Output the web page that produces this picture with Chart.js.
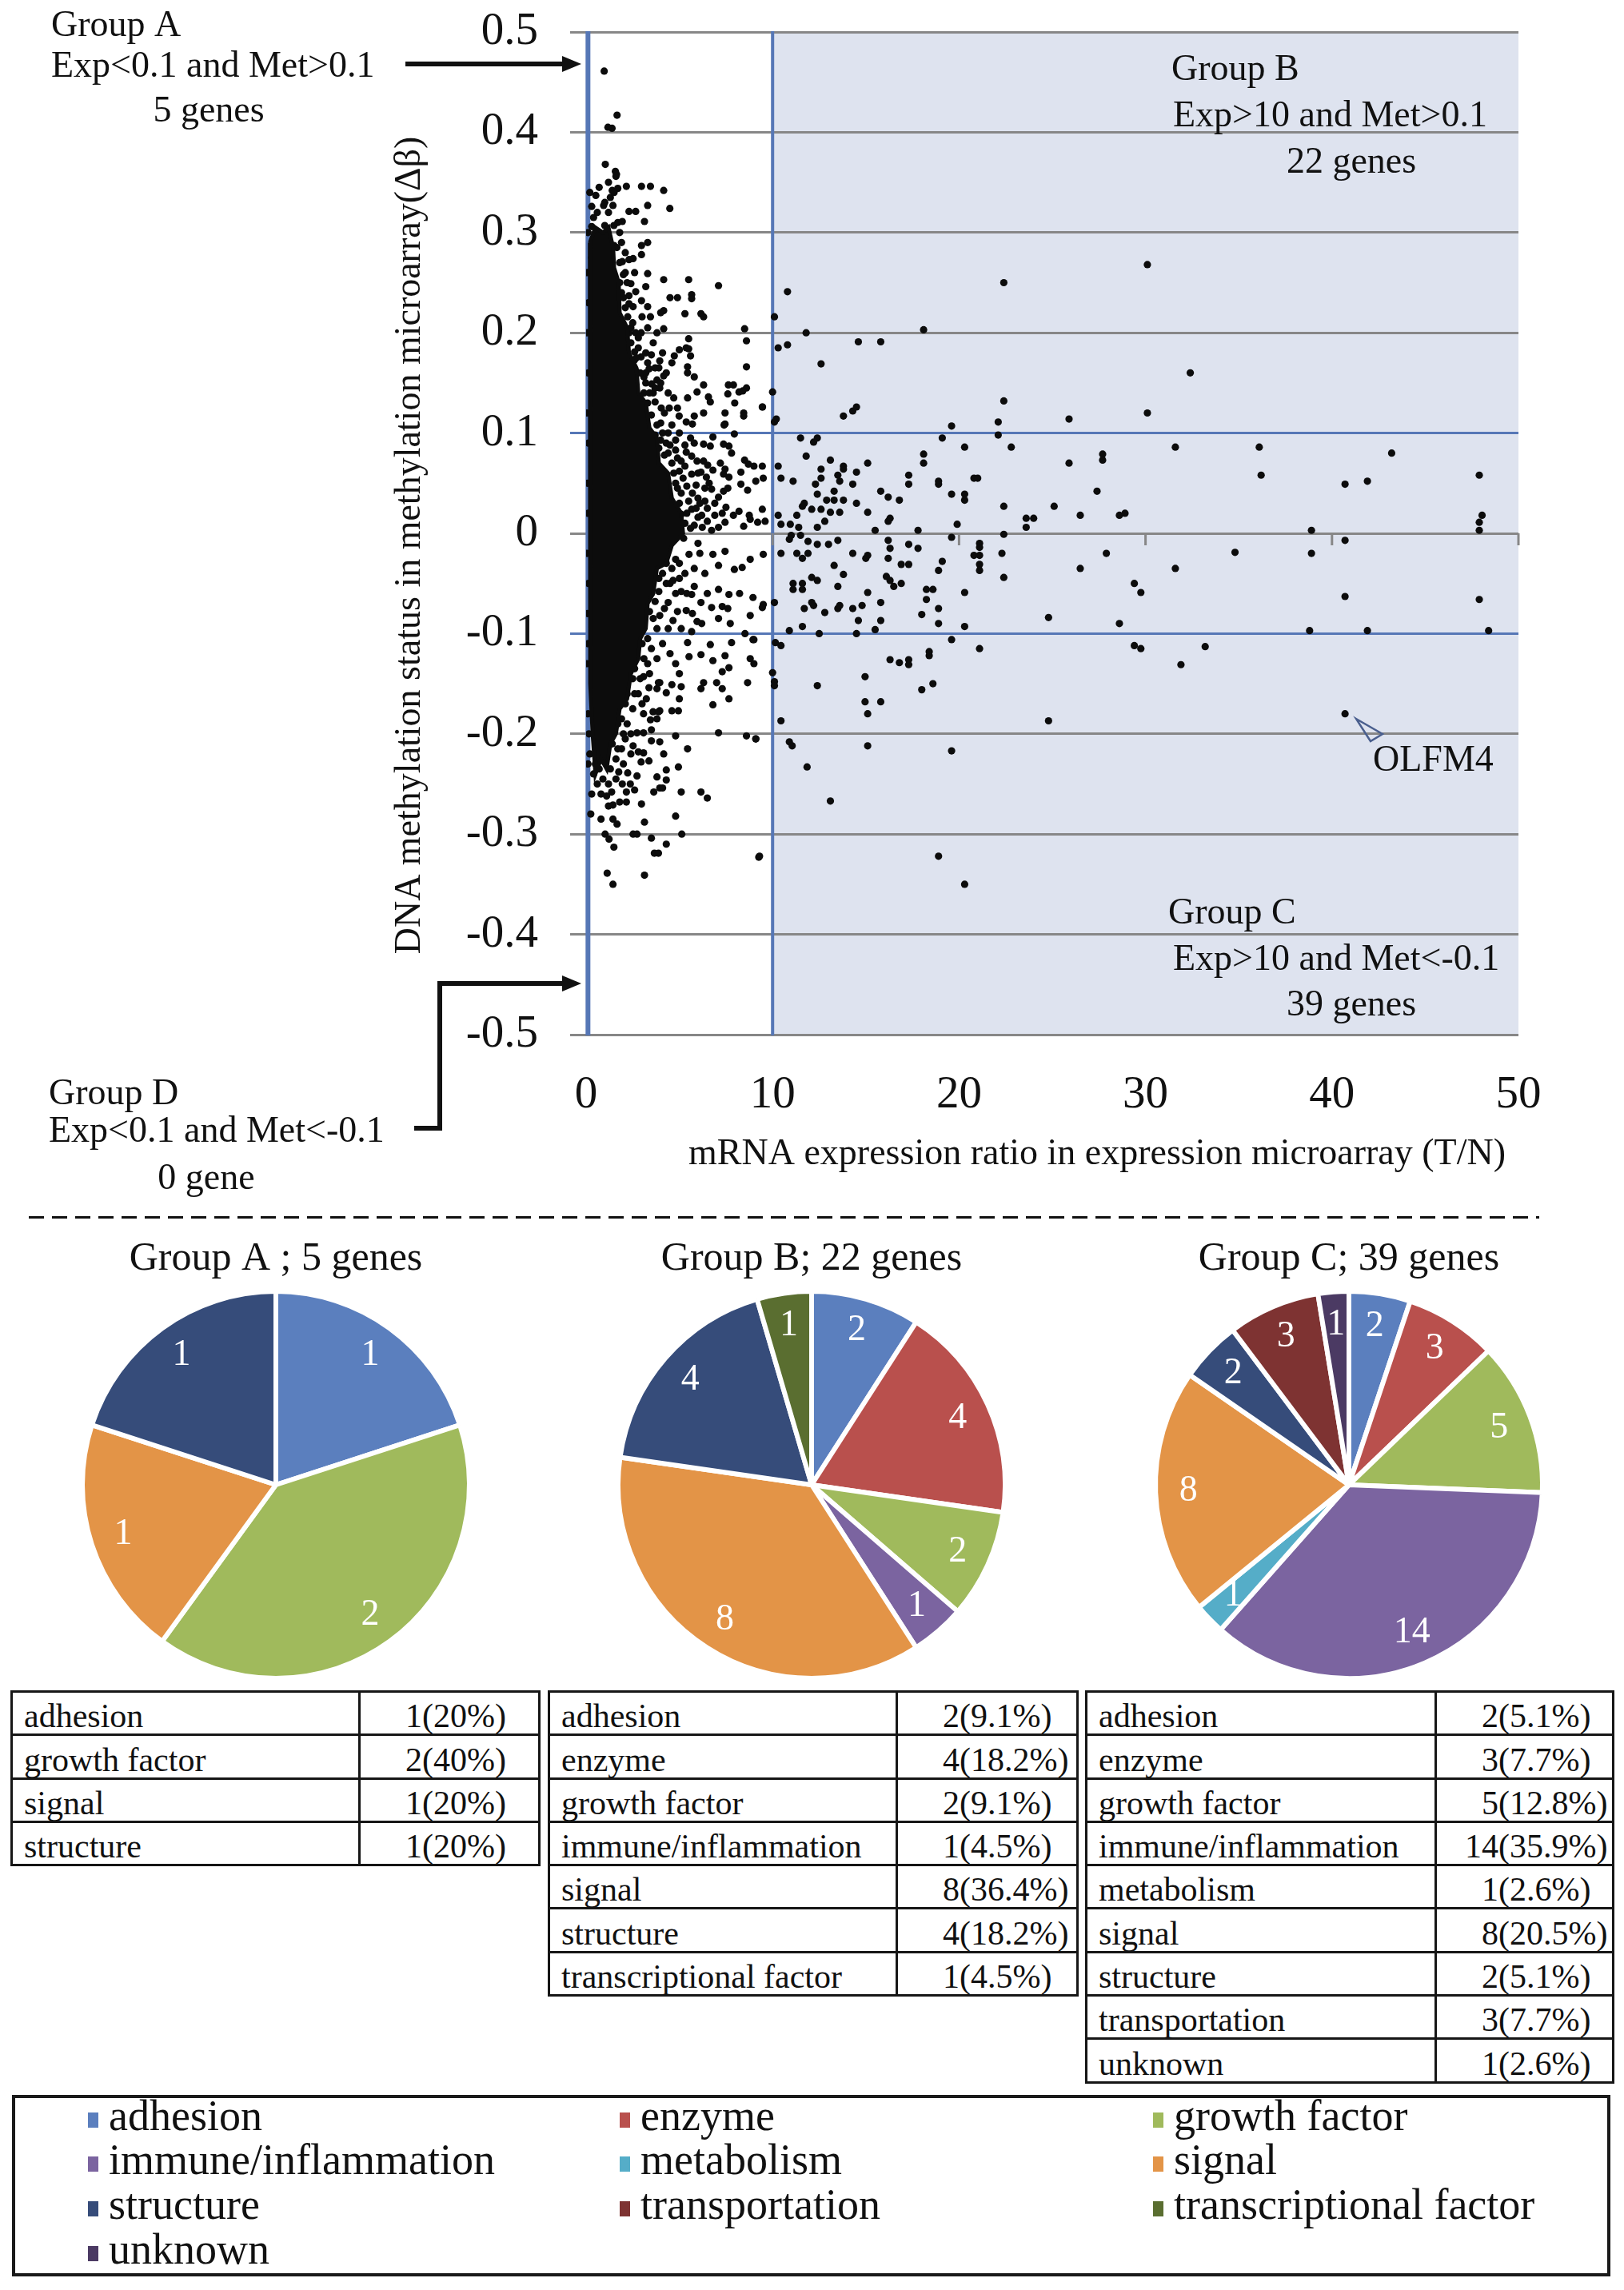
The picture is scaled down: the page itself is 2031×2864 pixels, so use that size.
<!DOCTYPE html>
<html>
<head>
<meta charset="utf-8">
<script src="https://cdn.jsdelivr.net/npm/chart.js@4.4.1/dist/chart.umd.min.js"></script>
<style>
html, body { margin: 0; padding: 0; background: #fff; }
body { width: 2031px; height: 2864px; position: relative; overflow: hidden;
  font-family: "Liberation Serif", "Times New Roman", serif; color: #111; }
canvas { position: absolute; }
.dash { position: absolute; left: 36px; top: 1521px; width: 1889px; height: 3px;
  background: repeating-linear-gradient(to right, #111 0 19px, transparent 19px 29px); }
table { position: absolute; border-collapse: collapse; font-size: 42px; top: 2114px; table-layout: fixed; }
tr { height: 54.3px; }
td { border: 3.5px solid #161616; padding: 0 0 1px 14px; vertical-align: bottom; line-height: 1; white-space: nowrap; overflow: visible; }
td.num { padding-left: 0; }
td.num span { display: inline-block; width: 77px; text-align: right; }
.legendBox { position: absolute; left: 15px; top: 2620px; width: 1991px; height: 219px; border: 4px solid #1a1a1a; }
.li { position: absolute; font-size: 54px; line-height: 54px; white-space: nowrap; }
.sw { position: absolute; width: 13px; height: 19px; }
</style>
</head>
<body>
<canvas id="scatter" width="2031" height="1510" style="left:0;top:0;width:2031px;height:1510px"></canvas>
<div class="dash"></div>
<canvas id="pieA" width="560" height="570" style="left:65px;top:1540px;width:560px;height:570px"></canvas>
<canvas id="pieB" width="560" height="570" style="left:735px;top:1540px;width:560px;height:570px"></canvas>
<canvas id="pieC" width="560" height="570" style="left:1407px;top:1540px;width:560px;height:570px"></canvas>
<table id="tabA" style="left:13px;width:660px"><colgroup><col style="width:435px"><col style="width:225px"></colgroup></table>
<table id="tabB" style="left:685px;width:661px"><colgroup><col style="width:435px"><col style="width:226px"></colgroup></table>
<table id="tabC" style="left:1357px;width:659px"><colgroup><col style="width:437px"><col style="width:222px"></colgroup></table>
<div class="legendBox"></div>
<div id="legend"></div>
<script>
// scatter axes
const xTicks = [0, 10, 20, 30, 40, 50]
const yTicks = [-0.5, -0.4, -0.3, -0.2, -0.1, 0, 0.1, 0.2, 0.3, 0.4, 0.5]
const expThresholds = [0.1, 10]
const metThresholds = [0.1, -0.1]

// saturated black core of the cloud (outline)
const coreOutline = [
  [0.2, 0.29], [0.5, 0.305], [0.9, 0.3], [1.2, 0.305], [1.45, 0.285], [1.5, 0.265], [1.75, 0.25],
  [1.8, 0.22], [2.2, 0.205], [2.3, 0.18], [2.7, 0.165], [2.8, 0.14], [3.2, 0.13], [3.4, 0.105],
  [3.8, 0.095], [3.9, 0.07], [4.4, 0.06], [4.6, 0.035], [5.1, 0.02], [5.2, 0.0], [4.6, -0.012],
  [4.3, -0.03], [3.8, -0.035], [3.6, -0.06], [3.3, -0.07], [3.2, -0.095], [2.9, -0.105],
  [2.8, -0.125], [2.4, -0.14], [2.2, -0.165], [1.8, -0.175], [1.6, -0.2], [1.3, -0.21],
  [1.1, -0.235], [0.8, -0.225], [0.5, -0.24], [0.35, -0.2], [0.22, -0.15], [0.2, 0.29]
]

// genes with expression ratio below ~10 (outside the core)
const clusterPts = [
  [1.39, 0.404], [0.97, 0.461], [1.66, 0.417], [1.17, 0.405], [1.03, 0.368], [1.57, 0.361], [1.6, 0.356],
  [1.63, 0.358], [1.4, 0.342], [1.7, 0.344], [2.16, 0.346], [2.97, 0.346], [3.45, 0.346], [4.16, 0.342],
  [0.52, 0.337], [0.3, 0.326], [0.94, 0.327], [1.44, 0.327], [3.3, 0.327], [4.49, 0.324], [2.3, 0.321],
  [2.66, 0.321], [1.94, 0.311], [3.13, 0.311], [0.3, 0.306], [1.0, 0.307], [1.49, 0.307], [2.97, 0.287],
  [3.3, 0.29], [2.97, 0.278], [0.52, 0.287], [1.09, 0.285], [1.5, 0.287], [0.3, 0.275], [0.8, 0.274],
  [1.94, 0.271], [2.3, 0.273], [2.52, 0.274], [3.3, 0.259], [4.16, 0.253], [5.5, 0.253], [7.1, 0.247],
  [3.2, 0.246], [2.4, 0.249], [2.0, 0.258], [2.66, 0.241], [2.3, 0.237], [4.5, 0.235], [4.9, 0.235],
  [5.66, 0.238], [5.66, 0.234], [2.97, 0.232], [3.3, 0.226], [2.52, 0.226], [2.3, 0.229], [4.0, 0.22],
  [4.16, 0.222], [5.3, 0.219], [6.16, 0.219], [6.3, 0.216], [3.45, 0.216], [3.0, 0.216], [2.23, 0.216],
  [4.16, 0.204], [8.5, 0.204], [8.6, 0.192], [8.6, 0.166], [2.95, 0.2], [2.66, 0.2], [2.3, 0.2],
  [5.5, 0.194], [5.37, 0.185], [5.5, 0.184], [5.0, 0.183], [4.73, 0.177], [5.6, 0.177], [3.5, 0.178],
  [3.95, 0.172], [4.6, 0.17], [3.9, 0.165], [2.95, 0.176], [3.3, 0.17], [3.38, 0.164], [2.6, 0.181],
  [2.6, 0.173], [2.66, 0.162], [5.44, 0.166], [5.44, 0.16], [5.8, 0.156], [4.16, 0.157], [3.8, 0.153],
  [3.1, 0.156], [3.52, 0.149], [3.95, 0.145], [6.3, 0.148], [5.95, 0.141], [6.56, 0.136], [6.66, 0.131],
  [4.7, 0.135], [5.44, 0.135], [7.63, 0.148], [7.9, 0.148], [8.2, 0.141], [8.6, 0.145], [7.6, 0.139],
  [7.97, 0.13], [8.4, 0.142], [9.45, 0.126], [8.45, 0.12], [8.45, 0.117], [7.45, 0.12], [7.45, 0.109],
  [7.4, 0.108], [6.3, 0.12], [4.99, 0.117], [5.8, 0.117], [5.37, 0.111], [5.7, 0.109], [4.46, 0.125],
  [4.03, 0.125], [3.7, 0.131], [7.95, 0.099], [6.8, 0.096], [6.3, 0.089], [6.66, 0.087], [7.37, 0.089],
  [7.66, 0.087], [7.8, 0.08], [7.2, 0.07], [7.45, 0.064], [7.66, 0.056], [8.5, 0.073], [8.7, 0.069],
  [9.0, 0.067], [9.45, 0.067], [8.3, 0.061], [8.66, 0.043], [8.3, 0.049], [9.1, 0.052], [9.5, 0.055],
  [9.45, 0.024], [9.6, 0.012], [9.2, 0.011], [8.75, 0.018], [6.52, 0.068], [6.8, 0.063], [6.16, 0.061],
  [6.45, 0.056], [7.37, 0.059], [7.1, 0.036], [7.37, 0.042], [7.6, 0.045], [6.9, 0.03], [7.5, 0.026],
  [7.9, 0.018], [7.45, 0.011], [6.37, 0.045], [6.73, 0.044], [5.9, 0.048], [6.0, 0.035], [6.37, 0.032],
  [5.37, 0.081], [5.66, 0.077], [5.95, 0.072], [5.3, 0.067], [5.66, 0.059], [4.8, 0.093], [4.8, 0.083],
  [5.1, 0.072], [4.4, 0.1], [4.0, 0.093], [4.4, 0.08], [8.2, 0.022], [8.8, 0.014], [8.45, 0.007],
  [5.66, 0.024], [6.0, 0.016], [6.23, 0.006], [6.73, 0.003], [7.1, 0.006], [4.8, 0.027], [5.1, 0.019],
  [4.4, 0.014], [4.66, 0.006],
  [1.8, 0.25], [2.0, 0.235], [2.4, 0.205], [2.8, 0.185], [3.2, 0.16], [3.6, 0.14], [4.0, 0.11],
  [4.3, 0.09], [4.7, 0.06], [5.1, 0.04], [5.4, 0.02], [5.6, 0.005], [3.6, 0.19], [2.6, 0.26],
  [4.4, 0.14], [5.0, 0.1], [5.8, 0.09], [6.1, 0.03], [5.3, -0.04], [4.5, -0.05], [6.0, -0.01],
  [1.2, 0.32], [0.7, 0.3], [1.8, 0.3], [2.1, 0.28],
  [0.05, 0.2], [0.05, 0.12], [0.08, 0.05], [0.05, -0.02], [0.08, -0.08], [0.05, -0.13], [0.1, -0.18],
  [0.05, 0.26], [0.1, -0.23],
  [5.44, -0.109], [5.52, -0.123], [6.16, -0.121], [6.66, -0.111], [6.8, -0.127], [7.45, -0.122],
  [7.3, -0.138], [7.66, -0.134], [8.8, -0.125], [8.95, -0.106], [8.52, -0.1], [7.8, -0.109],
  [5.0, -0.14], [5.1, -0.153], [5.0, -0.165], [4.3, -0.159], [4.6, -0.151], [3.95, -0.149], [3.8, -0.155],
  [6.3, -0.149], [6.16, -0.155], [7.0, -0.149], [7.3, -0.155], [8.66, -0.149], [6.8, -0.171], [7.66, -0.165],
  [3.95, -0.177], [4.6, -0.177], [4.95, -0.177], [3.8, -0.185], [7.1, -0.199], [8.6, -0.202], [9.1, -0.205],
  [4.8, -0.202], [5.44, -0.215], [3.5, -0.207], [3.95, -0.208], [4.16, -0.22], [4.95, -0.233], [4.3, -0.236],
  [4.3, -0.246], [3.8, -0.243], [3.95, -0.254], [4.1, -0.254], [5.1, -0.258], [6.16, -0.258], [6.5, -0.264],
  [3.63, -0.258], [2.97, -0.27], [1.8, -0.268], [2.16, -0.268], [1.2, -0.272], [1.44, -0.271], [0.8, -0.26],
  [1.37, -0.258], [0.8, -0.285], [1.44, -0.285], [1.66, -0.29], [3.13, -0.288], [4.8, -0.282], [1.02, -0.3],
  [1.23, -0.305], [1.49, -0.313], [2.52, -0.3], [2.73, -0.3], [3.5, -0.304], [4.3, -0.31], [5.13, -0.3],
  [3.66, -0.319], [3.88, -0.319], [9.26, -0.323], [1.13, -0.339], [3.13, -0.341], [1.44, -0.35],
  [2.16, -0.258], [2.6, -0.256], [1.94, -0.25], [2.37, -0.25], [2.73, -0.242], [2.23, -0.239], [2.95, -0.228],
  [3.37, -0.227], [3.08, -0.219], [2.73, -0.199], [3.08, -0.199], [3.5, -0.196], [2.52, -0.212], [2.8, -0.218],
  [3.45, -0.186], [3.08, -0.18], [3.59, -0.178], [3.88, -0.178], [3.23, -0.165], [3.37, -0.154], [3.88, -0.149],
  [3.08, -0.143], [5.8, -0.053], [6.16, -0.069], [6.73, -0.074], [7.1, -0.056], [7.66, -0.061], [7.3, -0.073],
  [7.73, -0.09], [8.23, -0.06], [8.95, -0.064], [8.8, -0.082], [8.37, -0.034], [7.1, -0.032], [6.8, -0.021],
  [7.45, -0.018], [7.95, -0.036], [8.8, -0.026], [9.5, -0.021], [6.37, -0.04], [5.37, -0.077], [5.95, -0.088],
  [5.1, -0.095], [5.66, -0.061], [7.1, -0.085], [7.6, -0.075], [9.5, -0.071], [9.45, -0.074], [4.4, -0.01],
  [4.8, -0.026], [5.23, -0.005], [5.52, -0.021], [4.66, -0.047], [5.1, -0.058], [4.4, -0.069], [3.95, -0.082],
  [4.66, -0.087], [5.66, -0.098],
  [0.5, -0.23], [0.7, -0.235], [1.0, -0.228], [1.3, -0.235], [1.6, -0.225], [1.9, -0.215], [2.1, -0.205],
  [0.9, -0.245], [1.2, -0.25], [1.6, -0.245], [0.4, -0.24], [2.0, -0.23], [1.75, -0.238], [0.6, -0.25],
  [1.1, -0.262], [2.4, -0.22], [2.2, -0.19], [1.9, -0.185], [2.5, -0.175], [2.2, -0.16], [2.8, -0.16],
  [2.6, -0.135], [3.1, -0.125], [3.3, -0.105], [3.6, -0.085], [3.5, -0.06], [3.9, -0.045], [4.3, -0.03],
  [9.46, 0.126], [9.3, -0.322], [9.1, -0.205], [9.0, -0.106], [9.0, -0.13],
  [3.9, 0.085], [4.2, 0.078], [4.5, 0.088], [4.6, 0.07], [4.9, 0.075], [5.0, 0.062], [5.2, 0.055],
  [4.8, 0.05], [5.4, 0.047], [5.7, 0.04], [5.5, 0.032], [5.9, 0.025], [6.2, 0.018], [6.5, 0.012],
  [5.8, 0.008], [5.3, 0.01], [5.0, 0.03], [4.9, 0.045], [4.3, 0.058], [4.1, 0.1], [3.8, 0.108],
  [3.5, 0.118], [3.3, 0.13], [3.1, 0.14], [4.6, 0.108], [4.2, 0.12], [4.9, 0.125], [3.7, 0.098],
  [5.3, 0.088], [5.6, 0.095], [6.0, 0.06], [6.3, 0.072], [6.6, 0.05], [6.9, 0.018], [7.3, 0.02], [6.5, 0.025],
  [2.4, 0.19], [2.7, 0.175], [2.9, 0.16], [3.2, 0.15], [3.4, 0.14], [3.7, 0.145], [3.2, 0.18], [2.8, 0.195],
  [2.5, 0.21], [2.1, 0.225], [1.9, 0.24], [2.2, 0.25], [4.0, 0.15], [4.3, 0.16], [3.7, 0.165], [4.1, 0.18],
  [3.8, 0.2], [3.3, 0.205],
  [4.5, -0.01], [4.2, -0.018], [3.8, -0.03], [3.6, -0.04], [3.3, -0.055], [3.2, -0.065], [3.0, -0.085],
  [3.4, -0.078], [3.7, -0.068], [3.9, -0.058], [4.1, -0.04], [4.3, -0.05], [4.6, -0.035], [5.0, -0.03],
  [5.0, -0.045], [4.8, -0.06], [4.2, -0.075], [3.8, -0.095], [4.4, -0.095], [4.9, -0.078], [5.4, -0.06],
  [5.8, -0.035], [6.1, -0.02], [6.5, -0.06], [6.2, -0.09], [5.7, -0.08], [4.1, -0.11], [3.5, -0.115],
  [3.0, -0.11], [2.7, -0.125], [3.3, -0.13], [3.8, -0.125], [4.5, -0.12], [4.8, -0.13], [2.5, -0.145],
  [2.9, -0.145], [3.4, -0.14], [2.1, -0.17], [2.6, -0.16], [3.0, -0.17], [1.7, -0.19], [2.0, -0.2],
  [2.4, -0.2], [1.4, -0.21], [1.7, -0.215],
  [0.4, 0.315], [0.6, 0.32], [1.0, 0.33], [1.3, 0.335], [1.7, 0.31], [1.9, 0.29], [1.65, 0.285],
  [1.8, 0.27], [2.1, 0.26], [0.2, 0.34], [0.7, 0.345], [1.2, 0.35], [1.5, 0.34],
  [0.1, 0.3], [0.12, 0.23], [0.1, 0.16], [0.12, 0.09], [0.1, 0.02], [0.12, -0.05], [0.1, -0.11],
  [0.15, -0.2], [0.2, -0.22], [0.3, -0.26], [0.25, -0.28]
]

// genes with expression ratio above ~10
const tailPts = [
  [10.8, 0.241], [10.1, 0.216], [22.4, 0.25], [30.1, 0.268], [11.8, 0.2], [18.1, 0.203], [10.3, 0.185],
  [10.8, 0.188], [14.6, 0.191], [15.8, 0.191], [12.6, 0.169], [32.4, 0.16], [10.0, 0.141], [13.8, 0.117],
  [14.3, 0.122], [14.5, 0.126], [22.4, 0.132], [10.1, 0.111], [10.2, 0.114], [25.9, 0.114], [30.1, 0.12],
  [19.6, 0.107], [22.1, 0.111], [22.1, 0.098], [11.5, 0.095], [12.2, 0.091], [12.4, 0.095], [19.1, 0.095],
  [20.3, 0.086], [22.8, 0.086], [31.6, 0.086], [11.8, 0.077], [18.1, 0.079], [18.1, 0.07], [27.7, 0.079],
  [27.7, 0.073], [25.9, 0.07], [15.1, 0.07], [13.1, 0.073], [13.8, 0.067], [13.8, 0.064], [12.6, 0.064],
  [12.6, 0.055], [14.5, 0.061], [10.3, 0.067], [10.45, 0.055], [11.1, 0.052], [17.3, 0.058], [17.3, 0.049],
  [13.5, 0.058], [13.6, 0.052], [18.9, 0.052], [18.9, 0.049], [20.8, 0.055], [21.0, 0.055], [12.3, 0.049],
  [14.3, 0.049], [13.3, 0.042], [15.8, 0.042], [16.2, 0.036], [12.4, 0.039], [19.6, 0.039], [20.3, 0.039],
  [20.3, 0.033], [27.4, 0.042], [12.9, 0.033], [13.3, 0.033], [13.8, 0.033], [16.8, 0.033], [14.5, 0.03],
  [11.7, 0.03], [11.6, 0.027], [12.1, 0.024], [22.4, 0.027], [25.1, 0.027], [12.6, 0.024], [10.3, 0.018],
  [11.3, 0.018], [13.1, 0.021], [13.6, 0.021], [15.1, 0.021], [16.3, 0.015], [16.2, 0.012], [23.6, 0.015],
  [24.0, 0.015], [26.5, 0.018], [28.6, 0.018], [28.9, 0.02], [12.8, 0.012], [10.45, 0.009], [10.95, 0.009],
  [11.4, 0.006], [12.4, 0.006], [19.9, 0.009], [23.6, 0.006], [17.8, 0.003], [15.5, 0.003],
  [19.6, -0.004], [21.1, -0.01], [21.1, -0.014], [22.4, -0.001], [22.3, -0.02], [20.8, -0.022], [21.1, -0.022],
  [27.9, -0.02], [26.5, -0.035], [31.6, -0.035], [21.1, -0.031], [21.1, -0.037], [22.4, -0.044], [19.1, -0.028],
  [18.9, -0.037], [29.4, -0.05], [29.75, -0.059], [20.3, -0.059], [18.25, -0.056], [18.6, -0.056], [18.25, -0.066],
  [24.8, -0.084], [28.6, -0.09], [18.9, -0.075], [18.9, -0.09], [20.3, -0.093], [18.0, -0.081], [15.8, -0.069],
  [15.8, -0.087], [14.6, -0.087], [15.5, -0.096], [15.1, -0.059], [16.9, -0.031], [17.3, -0.031], [16.1, -0.043],
  [16.3, -0.047], [16.5, -0.053], [16.9, -0.05], [16.2, -0.025], [16.2, -0.007], [16.3, -0.015], [17.3, -0.011],
  [17.8, -0.015], [15.0, -0.025], [15.1, -0.022], [14.3, -0.02], [13.3, -0.032], [13.8, -0.041], [13.5, -0.053],
  [12.1, -0.044], [12.4, -0.047], [11.1, -0.05], [11.1, -0.056], [11.6, -0.05], [11.6, -0.056], [10.45, -0.02],
  [11.3, -0.02], [11.9, -0.02], [11.6, -0.025], [10.9, -0.006], [11.0, -0.002], [11.5, -0.002], [12.4, -0.011],
  [13.0, -0.011], [13.5, -0.007], [11.9, -0.008], [11.7, -0.075], [12.1, -0.069], [12.2, -0.072], [12.8, -0.079],
  [13.5, -0.075], [13.6, -0.072], [14.3, -0.075], [14.8, -0.072], [11.6, -0.093], [12.5, -0.1], [14.5, -0.1],
  [10.9, -0.097], [10.1, -0.069], [19.6, -0.106], [21.1, -0.115], [10.15, -0.109], [10.45, -0.112],
  [29.4, -0.112], [29.75, -0.115], [31.9, -0.131], [16.3, -0.126], [16.8, -0.129], [17.3, -0.126],
  [17.3, -0.131], [18.4, -0.118], [18.4, -0.122], [10.0, -0.139], [10.1, -0.148], [10.1, -0.152],
  [14.96, -0.143], [18.6, -0.15], [18.0, -0.156], [12.4, -0.152], [14.96, -0.168], [15.8, -0.168],
  [15.1, -0.18], [10.45, -0.187], [24.8, -0.187], [10.9, -0.208], [11.05, -0.212], [15.1, -0.212],
  [19.6, -0.217], [11.85, -0.233], [13.1, -0.267], [18.9, -0.322], [20.3, -0.35],
  [36.1, 0.086], [36.2, 0.058], [40.7, 0.049], [41.9, 0.052], [43.2, 0.08], [47.9, 0.058], [48.05, 0.018],
  [47.9, 0.011], [47.9, 0.003], [38.9, 0.003], [38.9, -0.02], [40.7, -0.007], [34.8, -0.019], [40.7, -0.063],
  [47.9, -0.066], [38.8, -0.097], [41.9, -0.097], [48.4, -0.097], [33.2, -0.113], [40.7, -0.18]
]

// gene function categories and counts per group
const categories = ["adhesion", "enzyme", "growth factor", "immune/inflammation", "metabolism",
  "signal", "structure", "transportation", "transcriptional factor", "unknown"]
const groupACounts = [1, 0, 2, 0, 0, 1, 1, 0, 0, 0]
const groupBCounts = [2, 4, 2, 1, 0, 8, 4, 0, 1, 0]
const groupCCounts = [2, 3, 5, 14, 1, 8, 2, 3, 0, 1]
const groupTitles = ["Group A ; 5 genes", "Group B; 22 genes", "Group C; 39 genes"]

const catColors = ["#5B7FBE", "#B9504D", "#A0BA5C", "#7B64A0", "#55ADC8",
  "#E39447", "#364C7A", "#7E3332", "#5A6E30", "#4B3A63"]

const SERIF = '"Liberation Serif", "Times New Roman", serif'
Chart.defaults.font.family = SERIF
Chart.defaults.color = "#111"
const BLUE = "#5677B6"
const GRAY = "#878787"

function toXY(list) {
  return list.map(function (p) { return { x: p[0], y: p[1] } })
}

function arrow(ctx, pts) {
  ctx.beginPath()
  ctx.moveTo(pts[0][0], pts[0][1])
  for (let i = 1; i < pts.length - 1; i++) ctx.lineTo(pts[i][0], pts[i][1])
  const a = pts[pts.length - 2], b = pts[pts.length - 1]
  const ang = Math.atan2(b[1] - a[1], b[0] - a[0])
  ctx.lineTo(b[0] - Math.cos(ang) * 20, b[1] - Math.sin(ang) * 20)
  ctx.stroke()
  ctx.beginPath()
  ctx.moveTo(b[0], b[1])
  ctx.lineTo(b[0] - Math.cos(ang) * 24 - Math.sin(ang) * 10, b[1] - Math.sin(ang) * 24 + Math.cos(ang) * 10)
  ctx.lineTo(b[0] - Math.cos(ang) * 24 + Math.sin(ang) * 10, b[1] - Math.sin(ang) * 24 - Math.cos(ang) * 10)
  ctx.closePath()
  ctx.fill()
}

// shading, threshold lines, texts and arrows of the scatter panel
const scatterDecor = {
  id: "scatterDecor",
  beforeDraw(chart) {
    const { ctx, chartArea: a, scales: { x } } = chart
    const x10 = x.getPixelForValue(expThresholds[1])
    ctx.save()
    ctx.fillStyle = "#DEE3EF"
    ctx.fillRect(x10, a.top, a.right - x10, a.bottom - a.top)
    ctx.restore()
  },
  beforeDatasetsDraw(chart) {
    const { ctx, chartArea: a, scales: { x, y } } = chart
    ctx.save()
    ctx.strokeStyle = BLUE
    expThresholds.forEach(function (v, i) {
      const px = x.getPixelForValue(v)
      ctx.lineWidth = i == 0 ? 6 : 4
      ctx.beginPath(); ctx.moveTo(px, a.top - 1); ctx.lineTo(px, a.bottom + 1); ctx.stroke()
    })
    ctx.strokeStyle = GRAY
    ctx.lineWidth = 3
    const y0 = y.getPixelForValue(0)
    xTicks.slice(1).forEach(function (v) {
      const px = x.getPixelForValue(v)
      ctx.beginPath(); ctx.moveTo(px, y0); ctx.lineTo(px, y0 + 15); ctx.stroke()
    })
    ctx.restore()
  },
  afterDraw(chart) {
    const { ctx, chartArea: a } = chart
    ctx.save()
    ctx.fillStyle = "#111"
    ctx.font = "46px " + SERIF
    ctx.textAlign = "center"
    ctx.fillText("mRNA expression ratio in expression microarray (T/N)", 1372, 1456)
    ctx.save()
    ctx.translate(513, 682)
    ctx.rotate(-Math.PI / 2)
    ctx.textBaseline = "middle"
    ctx.fillText("DNA methylation status in methylation microarray(\u0394\u03b2)", 0, 0)
    ctx.restore()

    ctx.font = "46px " + SERIF
    ctx.textAlign = "left"
    ctx.fillText("Group A", 64, 45)
    ctx.fillText("Exp<0.1 and Met>0.1", 64, 96)
    ctx.fillText("Group D", 61, 1381)
    ctx.fillText("Exp<0.1 and Met<-0.1", 61, 1428)
    ctx.fillText("Group B", 1465, 100)
    ctx.fillText("Exp>10 and Met>0.1", 1467, 158)
    ctx.fillText("Group C", 1461, 1155)
    ctx.fillText("Exp>10 and Met<-0.1", 1467, 1213)
    ctx.fillText("OLFM4", 1717, 964)
    ctx.textAlign = "center"
    ctx.fillText("5 genes", 261, 152)
    ctx.fillText("0 gene", 258, 1487)
    ctx.fillText("22 genes", 1690, 216)
    ctx.fillText("39 genes", 1690, 1270)

    ctx.strokeStyle = "#111"
    ctx.lineWidth = 6
    ctx.lineJoin = "miter"
    arrow(ctx, [[507, 80], [a.left - 6, 80]])
    arrow(ctx, [[518, 1411], [550, 1411], [550, 1230], [a.left - 6, 1230]])

    ctx.strokeStyle = "#4A5F8E"
    ctx.lineWidth = 2.5
    ctx.beginPath()
    ctx.moveTo(1696, 899); ctx.lineTo(1729, 918); ctx.lineTo(1714, 927); ctx.closePath()
    ctx.stroke()
    ctx.restore()
  }
}

new Chart(document.getElementById("scatter"), {
  type: "scatter",
  data: {
    datasets: [
      {
        type: "line",
        label: "core",
        data: toXY(coreOutline),
        showLine: true,
        fill: "shape",
        backgroundColor: "#0c0c0c",
        borderColor: "#0c0c0c",
        borderWidth: 5,
        pointRadius: 0,
        tension: 0,
      },
      {
        label: "cluster",
        data: toXY(clusterPts),
        backgroundColor: "#0c0c0c",
        borderWidth: 0,
        pointRadius: 4.6,
      },
      {
        label: "tail",
        data: toXY(tailPts),
        backgroundColor: "#0c0c0c",
        borderWidth: 0,
        pointRadius: 4.6,
      },
    ],
  },
  options: {
    responsive: false,
    devicePixelRatio: 1,
    animation: false,
    layout: { padding: { left: 0, right: 132, top: 40, bottom: 0 } },
    plugins: { legend: { display: false }, tooltip: { enabled: false } },
    scales: {
      x: {
        type: "linear",
        min: 0,
        max: 50,
        afterBuildTicks: function (s) { s.ticks = xTicks.map(function (v) { return { value: v } }) },
        afterFit: function (s) { s.height = 216 },
        grid: { display: false, drawTicks: false },
        border: { display: false },
        ticks: { font: { size: 57 }, color: "#111", padding: 42, maxRotation: 0 },
      },
      y: {
        min: -0.5,
        max: 0.5,
        afterBuildTicks: function (s) { s.ticks = yTicks.map(function (v) { return { value: v } }) },
        afterFit: function (s) { s.width = 733; s.paddingTop = 0; s.paddingBottom = 0 },
        grid: {
          color: function (c) { return c.tick && metThresholds.includes(c.tick.value) ? BLUE : GRAY },
          lineWidth: 3,
          tickLength: 20,
        },
        border: { display: false },
        ticks: {
          font: { size: 57 },
          color: "#111",
          padding: 40,
          callback: function (v) { return v === 0 ? "0" : v.toFixed(1) },
        },
      },
    },
  },
  plugins: [scatterDecor],
})

// white counts inside pie slices
const sliceLabels = {
  id: "sliceLabels",
  afterDatasetsDraw(chart) {
    const ctx = chart.ctx
    const vals = chart.data.datasets[0].data
    ctx.save()
    ctx.fillStyle = "#fff"
    ctx.font = "46px " + SERIF
    ctx.textAlign = "center"
    ctx.textBaseline = "middle"
    chart.getDatasetMeta(0).data.forEach(function (arc, i) {
      const p = arc.getProps(["x", "y", "startAngle", "endAngle", "outerRadius"], true)
      const mid = (p.startAngle + p.endAngle) / 2
      const r = p.outerRadius * 0.83
      ctx.fillText(String(vals[i]), p.x + Math.cos(mid) * r, p.y + Math.sin(mid) * r)
    })
    ctx.restore()
  }
}

const groups = [groupACounts, groupBCounts, groupCCounts]
const pieIds = ["pieA", "pieB", "pieC"]
const tableIds = ["tabA", "tabB", "tabC"]

groups.forEach(function (counts, g) {
  const idx = []
  counts.forEach(function (c, i) { if (c > 0) idx.push(i) })
  new Chart(document.getElementById(pieIds[g]), {
    type: "pie",
    data: {
      labels: idx.map(function (i) { return categories[i] }),
      datasets: [{
        data: idx.map(function (i) { return counts[i] }),
        backgroundColor: idx.map(function (i) { return catColors[i] }),
        borderColor: "#fff",
        borderWidth: 6,
      }],
    },
    options: {
      responsive: false,
      devicePixelRatio: 1,
      animation: false,
      layout: { padding: { bottom: 8 } },
      plugins: {
        legend: { display: false },
        tooltip: { enabled: false },
        title: {
          display: true,
          text: groupTitles[g],
          font: { size: 50, weight: "normal" },
          color: "#111",
          padding: { top: 5, bottom: 7 },
        },
      },
    },
    plugins: [sliceLabels],
  })

  // table of counts and shares
  const total = counts.reduce(function (s, v) { return s + v }, 0)
  const table = document.getElementById(tableIds[g])
  idx.forEach(function (i) {
    const pct = (counts[i] / total * 100).toFixed(1).replace(/\.0$/, "")
    const tr = table.insertRow()
    tr.insertCell().textContent = categories[i]
    const td = tr.insertCell()
    td.className = "num"
    td.innerHTML = "<span>" + counts[i] + "</span>(" + pct + "%)"
  })
})

// shared legend
const legendCols = [110, 775, 1442]
const legendRows = [2664, 2719, 2775, 2831]
const legend = document.getElementById("legend")
categories.forEach(function (c, i) {
  const col = i % 3, row = Math.floor(i / 3)
  const sw = document.createElement("div")
  sw.className = "sw"
  sw.style.left = legendCols[col] + "px"
  sw.style.top = (legendRows[row] - 22) + "px"
  sw.style.background = catColors[i]
  legend.appendChild(sw)
  const t = document.createElement("div")
  t.className = "li"
  t.textContent = c
  t.style.left = (legendCols[col] + 26) + "px"
  t.style.top = (legendRows[row] - 45) + "px"
  legend.appendChild(t)
})
</script>
</body>
</html>
